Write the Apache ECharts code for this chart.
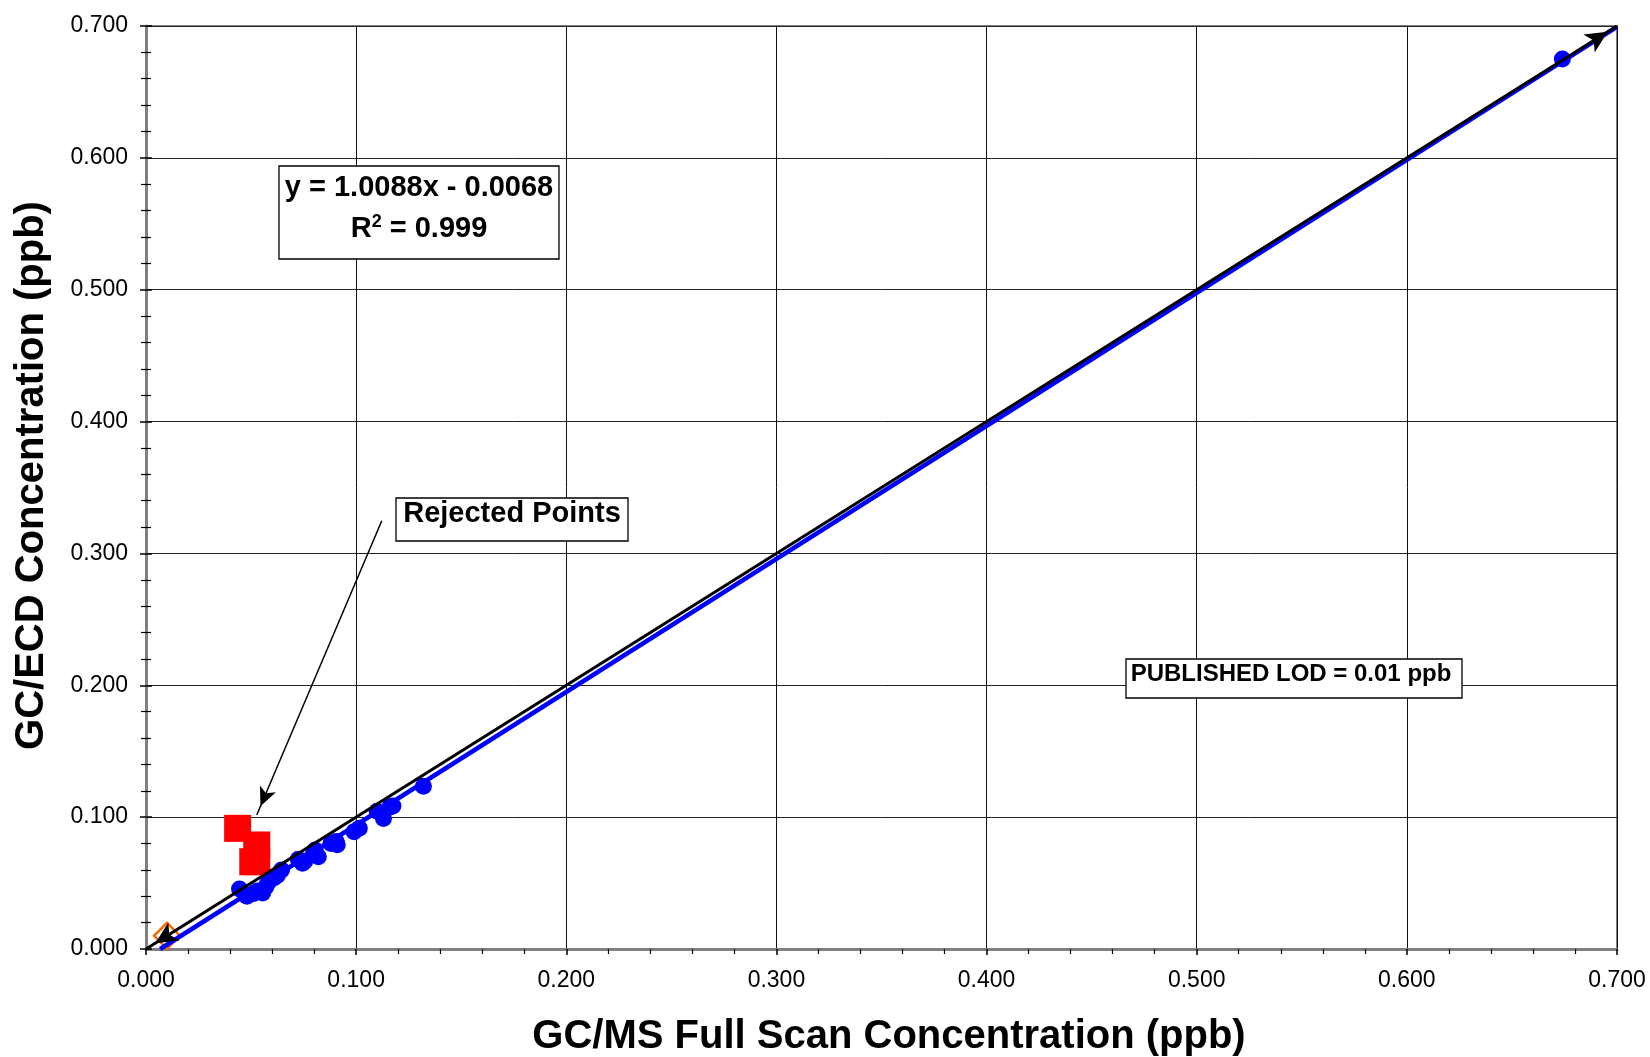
<!DOCTYPE html>
<html>
<head>
<meta charset="utf-8">
<title>GC/ECD vs GC/MS Full Scan</title>
<script src="https://cdn.jsdelivr.net/npm/echarts@6/dist/echarts.min.js"></script>
<style>
  html, body { margin: 0; padding: 0; background: #ffffff; }
  #chart { width: 1650px; height: 1057px; }
</style>
</head>
<body>
<div id="chart"></div>
<script>
// Axis ticks (ppb), shared by both axes
const tickValues = [0.0, 0.1, 0.2, 0.3, 0.4, 0.5, 0.6, 0.7];

// Accepted sample pairs: GC/MS full scan (x) vs GC/ECD (y), ppb
const gcmsAccepted = [0.0445, 0.048, 0.051, 0.053, 0.0555, 0.057, 0.058, 0.061, 0.0625, 0.0645,
                      0.0725, 0.0745, 0.0755, 0.0795, 0.0805, 0.082, 0.088, 0.0905, 0.091, 0.099,
                      0.1015, 0.110, 0.113, 0.116, 0.1175, 0.132, 0.674];
const gcecdAccepted = [0.0455, 0.040, 0.042, 0.044, 0.0425, 0.047, 0.050, 0.054, 0.056, 0.060,
                       0.068, 0.065, 0.0665, 0.0715, 0.075, 0.070, 0.080, 0.0815, 0.079, 0.089,
                       0.0915, 0.1045, 0.099, 0.1075, 0.1085, 0.1235, 0.675];

// Rejected sample pairs
const gcmsRejected = [0.0436, 0.0527, 0.0508, 0.0527];
const gcecdRejected = [0.0915, 0.0789, 0.0662, 0.0662];

// Published limit of detection (ppb)
const lodValue = 0.01;

// Linear fit reported for the accepted points
const fitSlope = 1.0088;
const fitIntercept = -0.0068;
const fitR2 = 0.999;

// Arrow for the "Rejected Points" callout: tail and head (ppb)
const calloutTail = [0.1122, 0.3248];
const calloutHead = [0.0527, 0.1016];

const FONT = '"Liberation Sans", Arial, Helvetica, sans-serif';
const axisMin = tickValues[0];
const axisMax = tickValues[tickValues.length - 1];
const axisStep = tickValues[1] - tickValues[0];

const acceptedData = gcmsAccepted.map((x, i) => [x, gcecdAccepted[i]]);
const rejectedData = gcmsRejected.map((x, i) => [x, gcecdRejected[i]]);

// Fit line from the y = 0 crossing to the right edge of the plot
const fitStartX = -fitIntercept / fitSlope;
const fitData = [
  [fitStartX, fitSlope * fitStartX + fitIntercept],
  [axisMax, fitSlope * axisMax + fitIntercept]
];

const tickFmt = v => v.toFixed(3);

const chart = echarts.init(document.getElementById('chart'), null, { renderer: 'canvas' });

const baseAxis = {
  type: 'value',
  min: axisMin,
  max: axisMax,
  interval: axisStep
};

const option = {
  backgroundColor: '#ffffff',
  animation: false,
  textStyle: { fontFamily: FONT },
  grid: {
    left: 146, right: 33, top: 26, bottom: 108,
    containLabel: false,
    outerBoundsMode: 'none',
    show: true,
    borderColor: '#808080',
    borderWidth: 2,
    backgroundColor: '#ffffff'
  },
  xAxis: [Object.assign({}, baseAxis, {
    position: 'bottom',
    name: 'GC/MS Full Scan Concentration (ppb)',
    nameLocation: 'middle',
    nameGap: 68,
    nameMoveOverlap: false,
    nameTextStyle: { fontFamily: FONT, fontSize: 40, fontWeight: 'bold', color: '#000', padding: [0, 0, 0, 15] },
    axisLine: { show: true, onZero: false, lineStyle: { color: '#808080', width: 3 } },
    axisTick: { show: true, inside: false, length: 6, lineStyle: { color: '#000', width: 1.5 } },
    minorTick: { show: true, splitNumber: 5, length: 5, lineStyle: { color: '#000', width: 1.2 } },
    splitLine: { show: true, lineStyle: { color: '#111', width: 1 } },
    minorSplitLine: { show: false },
    axisLabel: {
      show: true, margin: 20, fontFamily: FONT, fontSize: 23, color: '#000',
      showMinLabel: true, showMaxLabel: true, hideOverlap: false,
      formatter: tickFmt
    }
  })],
  yAxis: [
    Object.assign({}, baseAxis, {
      position: 'left',
      name: 'GC/ECD Concentration (ppb)',
      nameLocation: 'middle',
      nameGap: 94,
      nameMoveOverlap: false,
      nameTextStyle: { fontFamily: FONT, fontSize: 40, fontWeight: 'bold', color: '#000', padding: [0, 0, 0, 24] },
      axisLine: { show: true, onZero: false, lineStyle: { color: '#808080', width: 3 } },
      axisTick: { show: true, inside: false, length: 6, lineStyle: { color: '#000', width: 1.5 } },
      minorTick: { show: true, splitNumber: 5, length: 5, lineStyle: { color: '#000', width: 1.2 } },
      splitLine: { show: true, lineStyle: { color: '#222', width: 1 } },
      axisLabel: {
        show: true, margin: 18, fontFamily: FONT, fontSize: 23, color: '#000',
        showMinLabel: true, showMaxLabel: true, hideOverlap: false,
        formatter: tickFmt
      }
    }),
    // Same scale again, only to draw the tick marks on the inner side of the left axis
    Object.assign({}, baseAxis, {
      position: 'left',
      offset: 0,
      axisLine: { show: false, onZero: false },
      axisTick: { show: true, inside: true, length: 6, lineStyle: { color: '#000', width: 1.5 } },
      minorTick: { show: true, splitNumber: 5, length: 5, lineStyle: { color: '#000', width: 1.2 } },
      splitLine: { show: false },
      axisLabel: { show: false }
    })
  ],
  series: [
    {
      name: 'Rejected Points',
      type: 'scatter',
      data: rejectedData,
      symbol: 'rect',
      symbolSize: 27,
      itemStyle: { color: '#FF0000', opacity: 1 },
      z: 2,
      silent: true
    },
    {
      name: 'Accepted Points',
      type: 'scatter',
      data: acceptedData,
      symbol: 'circle',
      symbolSize: 17,
      itemStyle: { color: '#0000FF', opacity: 1 },
      z: 3,
      silent: true
    },
    {
      name: 'Published LOD',
      type: 'scatter',
      data: [[lodValue, lodValue]],
      symbol: 'diamond',
      symbolSize: 26,
      itemStyle: { color: 'rgba(0,0,0,0)', borderColor: '#FF6600', borderWidth: 2.5, opacity: 1 },
      z: 3,
      silent: true
    },
    {
      name: 'Linear fit',
      type: 'line',
      data: fitData,
      symbol: 'none',
      showSymbol: false,
      lineStyle: { color: '#0000FF', width: 4.5 },
      z: 4,
      silent: true
    },
    {
      name: '1:1',
      type: 'line',
      data: [],
      symbol: 'none',
      z: 5,
      silent: true,
      markLine: {
        silent: true,
        animation: false,
        symbol: ['arrow', 'arrow'],
        symbolSize: [16, 22],
        symbolOffset: [[0, 11], [0, 11]],
        label: { show: false },
        lineStyle: { color: '#000000', width: 3, type: 'solid', opacity: 1 },
        itemStyle: { color: '#000000' },
        emphasis: { disabled: true },
        data: [[{ coord: [axisMin, axisMin] }, { coord: [axisMax, axisMax] }]]
      }
    },
    {
      name: 'Callout',
      type: 'line',
      data: [],
      symbol: 'none',
      z: 6,
      silent: true,
      markLine: {
        silent: true,
        animation: false,
        symbol: ['none', 'arrow'],
        symbolSize: [13, 19],
        symbolOffset: [[0, 0], [0, 9.5]],
        label: { show: false },
        lineStyle: { color: '#000000', width: 1.5, type: 'solid', opacity: 1 },
        itemStyle: { color: '#000000' },
        emphasis: { disabled: true },
        data: [[{ coord: calloutTail }, { coord: calloutHead }]]
      }
    }
  ],
  graphic: [
    // Fit equation box
    {
      type: 'rect', z: 100, silent: true,
      shape: { x: 279, y: 166, width: 280, height: 93 },
      style: { fill: '#ffffff', stroke: '#000000', lineWidth: 1.3 }
    },
    {
      type: 'text', z: 101, silent: true, x: 419, y: 188,
      style: {
        text: 'y = ' + fitSlope.toFixed(4) + 'x - ' + Math.abs(fitIntercept).toFixed(4),
        font: 'bold 29px ' + FONT, fill: '#000', align: 'center', verticalAlign: 'middle'
      }
    },
    {
      type: 'text', z: 101, silent: true, x: 419, y: 229,
      style: {
        text: '{r|R}{s|2}{r| = ' + fitR2.toFixed(3) + '}',
        align: 'center', verticalAlign: 'middle',
        rich: {
          r: { fontFamily: FONT, fontSize: 29, fontWeight: 'bold', fill: '#000', lineHeight: 32 },
          s: { fontFamily: FONT, fontSize: 18, fontWeight: 'bold', fill: '#000', verticalAlign: 'top', lineHeight: 20 }
        }
      }
    },
    // Callout label
    {
      type: 'rect', z: 100, silent: true,
      shape: { x: 396, y: 498, width: 232, height: 43 },
      style: { fill: '#ffffff', stroke: '#000000', lineWidth: 1.3 }
    },
    {
      type: 'text', z: 101, silent: true, x: 512, y: 514,
      style: {
        text: 'Rejected Points',
        font: 'bold 29px ' + FONT, fill: '#000', align: 'center', verticalAlign: 'middle'
      }
    },
    // Detection limit note
    {
      type: 'rect', z: 100, silent: true,
      shape: { x: 1126, y: 659, width: 336, height: 39 },
      style: { fill: '#ffffff', stroke: '#000000', lineWidth: 1.3 }
    },
    {
      type: 'text', z: 101, silent: true, x: 1291, y: 674,
      style: {
        text: 'PUBLISHED LOD = ' + lodValue.toFixed(2) + ' ppb',
        font: 'bold 24px ' + FONT, fill: '#000', align: 'center', verticalAlign: 'middle'
      }
    }
  ]
};

chart.setOption(option);
</script>
</body>
</html>
